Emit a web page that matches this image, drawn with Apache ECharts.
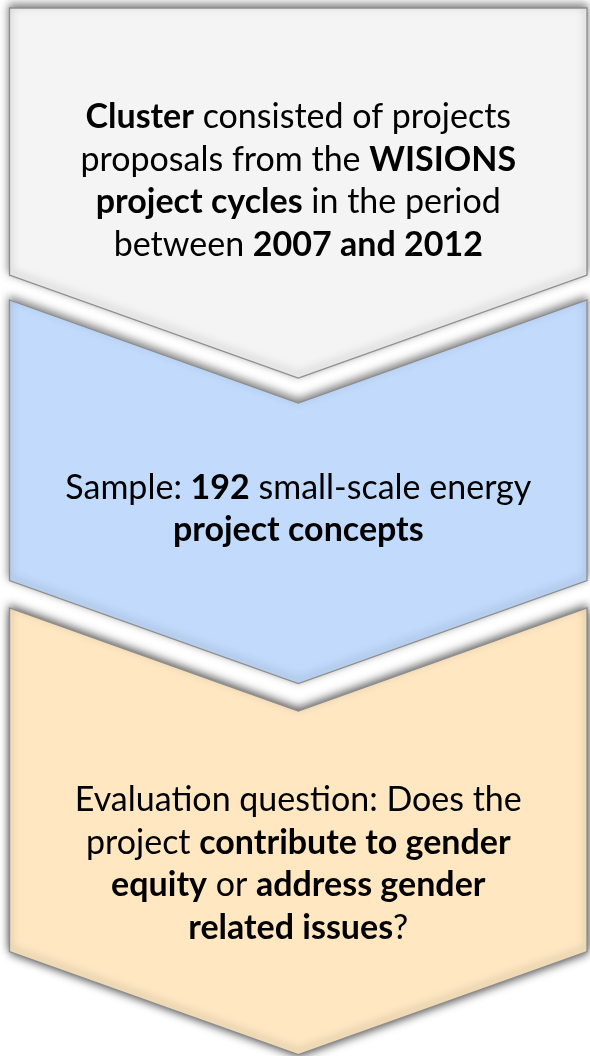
<!DOCTYPE html>
<html>
<head>
<meta charset="utf-8">
<script src="https://cdn.jsdelivr.net/npm/echarts@6/dist/echarts.min.js"></script>
<style>
html,body{margin:0;padding:0;background:#fff;}
#chart{width:590px;height:1056px;}
</style>
</head>
<body>
<div id="chart"></div>
<script>
// ---- Content (steps of the process, top to bottom) ----
const stepNames = ['Cluster', 'Sample', 'Evaluation question'];
// each step: lines of [weight, text] segments ('b' = bold, 'n' = normal)
const step1Lines = [
  [['b', 'Cluster'], ['n', ' consisted of projects']],
  [['n', 'proposals from the '], ['b', 'WISIONS']],
  [['b', 'project cycles'], ['n', ' in the period']],
  [['n', 'between '], ['b', '2007 and 2012']]
];
const step2Lines = [
  [['n', 'Sample: '], ['b', '192'], ['n', ' small-scale energy']],
  [['b', 'project concepts']]
];
const step3Lines = [
  [['n', 'Evaluation question: Does the']],
  [['n', 'project '], ['b', 'contribute to gender']],
  [['b', 'equity'], ['n', ' or '], ['b', 'address gender']],
  [['b', 'related issues'], ['n', '?']]
];
const stepLines = [step1Lines, step2Lines, step3Lines];

// ---- Layout (in page units on hidden axes) ----
const layout = {
  left: 9.5, right: 587, center: 298.3, depth: 103,
  top: [8, 300, 608],
  shoulder: [275, 580.5, 951.5],
  textCenter: [181, 509, 864],
  lineGap: 42.6,
  fills: ['#f4f4f4', '#c2dbfd', '#fee7c1'],
  stroke: '#8e8e8e'
};
const FONT = 'Lato';
const FS = 34;

function richLine(segs) {
  return segs.map(s => '{' + s[0] + '|' + s[1] + '}').join('');
}

const chart = echarts.init(document.getElementById('chart'), null, {renderer: 'canvas'});
const option = {
  animation: false,
  backgroundColor: '#ffffff',
  grid: {left: 0, right: 0, top: 0, bottom: 0},
  xAxis: {type: 'value', min: 0, max: 590, show: false},
  yAxis: {type: 'value', min: 0, max: 1056, inverse: true, show: false},
  series: [{
    type: 'custom',
    coordinateSystem: 'cartesian2d',
    data: stepNames.map((n, i) => ({name: n, value: [i]})),
    renderItem: function (params, api) {
      const i = api.value(0);
      const L = layout.left, R = layout.right, C = layout.center, D = layout.depth;
      const t = layout.top[i], s = layout.shoulder[i];
      let pts;
      if (i === 0) {
        pts = [[L, t], [R, t], [R, s], [C, s + D], [L, s]];
      } else {
        pts = [[L, t], [C, t + D], [R, t], [R, s], [C, s + D], [L, s]];
      }
      const px = pts.map(p => api.coord(p));
      const children = [];
      if (i === 2) {
        // soft shadow under the last chevron
        children.push({
          type: 'polygon',
          shape: {points: px},
          style: {fill: '#ffffff', shadowBlur: 8, shadowOffsetY: 3, shadowOffsetX: 1, shadowColor: 'rgba(0,0,0,0.45)'}
        });
      }
      children.push({
        type: 'polygon',
        shape: {points: px},
        style: {
          fill: layout.fills[i], stroke: layout.stroke, lineWidth: 1.3,
          shadowBlur: 8, shadowOffsetY: -3, shadowColor: 'rgba(0,0,0,0.5)'
        }
      });
      const lines = stepLines[i];
      const n = lines.length;
      lines.forEach((segs, k) => {
        const yy = layout.textCenter[i] + (k - (n - 1) / 2) * layout.lineGap;
        const p = api.coord([C, yy]);
        children.push({
          type: 'text',
          style: {
            text: richLine(segs),
            x: p[0], y: p[1],
            align: 'center', verticalAlign: 'middle',
            fill: '#000',
            fontFamily: FONT, fontSize: FS,
            rich: {
              n: {fontFamily: FONT, fontSize: FS, fontWeight: 'normal', color: '#000'},
              b: {fontFamily: FONT, fontSize: FS, fontWeight: 'bold', color: '#000'}
            }
          }
        });
      });
      return {type: 'group', children: children};
    }
  }]
};
chart.setOption(option);
</script>
</body>
</html>
